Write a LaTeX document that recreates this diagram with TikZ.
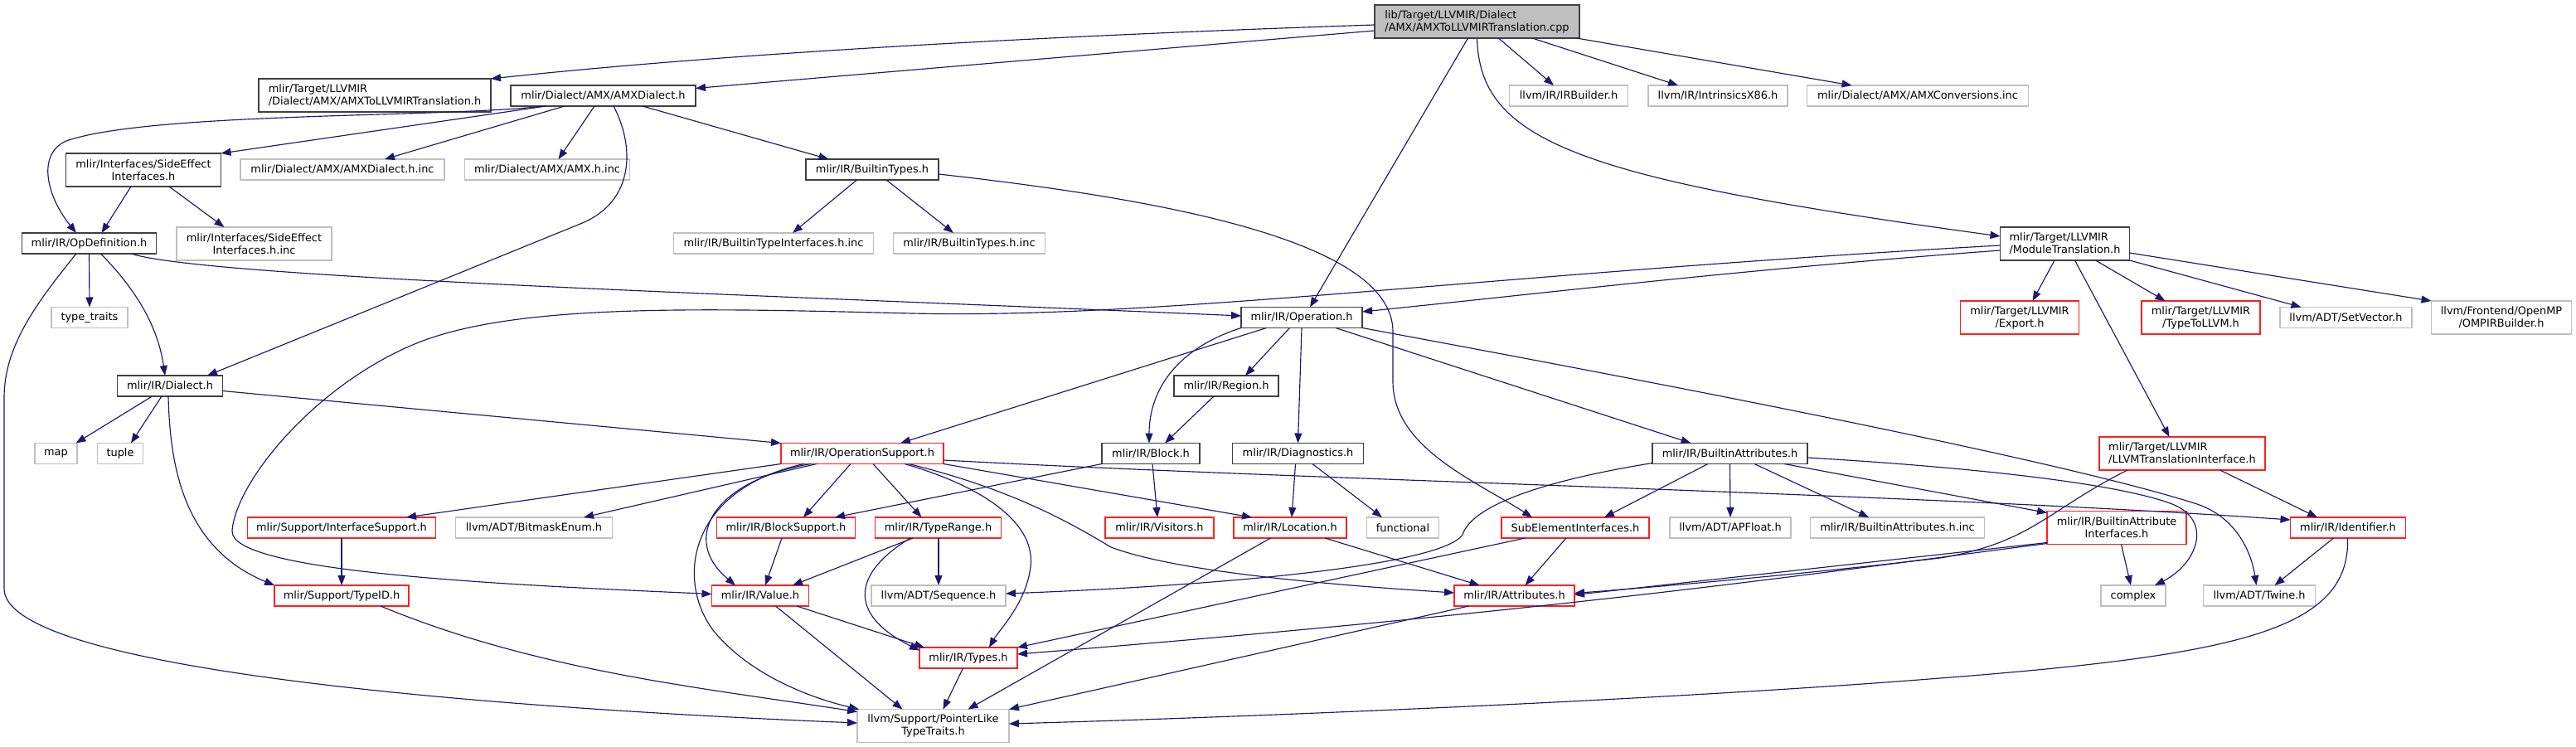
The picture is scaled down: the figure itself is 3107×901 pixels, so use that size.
\documentclass[tikz,border=0pt]{standalone}
\usepackage{fontspec}
\setmainfont{DejaVu Sans}
\usetikzlibrary{arrows.meta,calc}
\definecolor{edgecol}{HTML}{191970}
\definecolor{bcol}{HTML}{404040}
\definecolor{rcol}{HTML}{FF2020}
\definecolor{gcol}{HTML}{BFBFBF}
\begin{document}
\begin{tikzpicture}[x=1pt,y=-1pt,
  box/.style={rectangle, inner sep=0pt, outer sep=0pt, line width=1.1pt, fill=white,
    font=\fontsize{12.9}{15}\selectfont, text=black, align=center},
  sz/.style 2 args={minimum width=#1pt, minimum height=#2pt},
  nb/.style={box, draw=bcol},
  nr/.style={box, draw=rcol},
  ng/.style={box, draw=gcol},
  nroot/.style={box, draw=bcol, fill=gcol},
  dep/.style={draw=edgecol, line width=1.15pt, -{Triangle[length=12pt,width=9pt]}}]
\useasboundingbox (0,0) rectangle (3107,901);

% ---- nodes ----
\node[nroot, sz={247}{40}, align=left] (root) at (1781.5,26) {lib/Target/LLVMIR/Dialect\\/AMX/AMXToLLVMIRTranslation.cpp};
\node[nb, sz={280}{40}, align=left] (amxtrans) at (452,115) {mlir/Target/LLVMIR\\/Dialect/AMX/AMXToLLVMIRTranslation.h};
\node[nb, sz={223}{25}] (amxdialect) at (727.5,115.5) {mlir/Dialect/AMX/AMXDialect.h};
\node[ng, sz={143}{25}] (irbuilder) at (1892,115.5) {llvm/IR/IRBuilder.h};
\node[ng, sz={168}{25}] (x86) at (2072,115.5) {llvm/IR/IntrinsicsX86.h};
\node[ng, sz={267}{25}] (amxconv) at (2313,115.5) {mlir/Dialect/AMX/AMXConversions.inc};
\node[nb, sz={187}{40}] (sideeff) at (173,205) {mlir/Interfaces/SideEffect\\Interfaces.h};
\node[ng, sz={246}{25}] (amxdinc) at (413,204.5) {mlir/Dialect/AMX/AMXDialect.h.inc};
\node[ng, sz={199}{25}] (amxhinc) at (660,204.5) {mlir/Dialect/AMX/AMX.h.inc};
\node[nb, sz={160}{25}] (btypes) at (1052,204.5) {mlir/IR/BuiltinTypes.h};
\node[nb, sz={162}{25}] (opdef) at (107.5,293.5) {mlir/IR/OpDefinition.h};
\node[ng, sz={187}{40}] (sideinc) at (306.5,294) {mlir/Interfaces/SideEffect\\Interfaces.h.inc};
\node[ng, sz={241}{25}] (btiinc) at (933,293.5) {mlir/IR/BuiltinTypeInterfaces.h.inc};
\node[ng, sz={183}{25}] (btinc) at (1169,293.5) {mlir/IR/BuiltinTypes.h.inc};
\node[nb, sz={156}{40}, align=left] (modtrans) at (2490.5,294) {mlir/Target/LLVMIR\\/ModuleTranslation.h};
\node[nb, sz={146}{25}] (operation) at (1570,383) {mlir/IR/Operation.h};
\node[ng, sz={92}{25}] (typetraits) at (108,383) {type\_traits};
\node[nr, sz={143}{40}] (export) at (2436,383) {mlir/Target/LLVMIR\\/Export.h};
\node[nr, sz={143}{40}] (typetollvm) at (2654.5,383) {mlir/Target/LLVMIR\\/TypeToLLVM.h};
\node[ng, sz={159}{25}] (setvector) at (2829.5,383) {llvm/ADT/SetVector.h};
\node[ng, sz={169}{40}] (omp) at (3017,383) {llvm/Frontend/OpenMP\\/OMPIRBuilder.h};
\node[nb, sz={127}{25}] (dialect) at (205,465.5) {mlir/IR/Dialect.h};
\node[nb, sz={126}{25}] (region) at (1479,465.5) {mlir/IR/Region.h};
\node[nr, sz={200}{40}, align=left] (llvmti) at (2632,547) {mlir/Target/LLVMIR\\/LLVMTranslationInterface.h};
\node[ng, sz={51}{25}] (map) at (67.5,547) {map};
\node[ng, sz={55}{25}] (tuple) at (145,547) {tuple};
\node[nr, sz={196}{25}] (opsupport) at (1040,547) {mlir/IR/OperationSupport.h};
\node[nb, sz={118}{25}] (block) at (1388,547) {mlir/IR/Block.h};
\node[nb, sz={158}{25}] (diag) at (1565.5,547) {mlir/IR/Diagnostics.h};
\node[nb, sz={187}{25}] (battr) at (2086.5,547) {mlir/IR/BuiltinAttributes.h};
\node[nr, sz={227}{25}] (ifsupport) at (412,636.5) {mlir/Support/InterfaceSupport.h};
\node[ng, sz={189}{25}] (bitmask) at (644,636.5) {llvm/ADT/BitmaskEnum.h};
\node[nr, sz={167}{25}] (blocksupport) at (948,636.5) {mlir/IR/BlockSupport.h};
\node[nr, sz={152}{25}] (typerange) at (1131.5,636.5) {mlir/IR/TypeRange.h};
\node[nr, sz={131}{25}] (visitors) at (1398.5,636.5) {mlir/IR/Visitors.h};
\node[nr, sz={136}{25}] (location) at (1556,636.5) {mlir/IR/Location.h};
\node[ng, sz={87}{25}] (functional) at (1692,636.5) {functional};
\node[nr, sz={178}{25}] (subelem) at (1900,636.5) {SubElementInterfaces.h};
\node[ng, sz={146}{25}] (apfloat) at (2087,636.5) {llvm/ADT/APFloat.h};
\node[ng, sz={210}{25}] (battrinc) at (2288.5,636.5) {mlir/IR/BuiltinAttributes.h.inc};
\node[nr, sz={168}{40}] (bai) at (2553,636.5) {mlir/IR/BuiltinAttribute\\Interfaces.h};
\node[nr, sz={139}{25}] (identifier) at (2832,636.5) {mlir/IR/Identifier.h};
\node[nr, sz={162}{25}] (typeid) at (412,718.5) {mlir/Support/TypeID.h};
\node[nr, sz={117}{25}] (value) at (917,718.5) {mlir/IR/Value.h};
\node[ng, sz={162}{25}] (sequence) at (1132,718.5) {llvm/ADT/Sequence.h};
\node[nr, sz={145}{25}] (attributes) at (1826.5,718.5) {mlir/IR/Attributes.h};
\node[ng, sz={78}{25}] (complex) at (2573,718.5) {complex};
\node[ng, sz={135}{25}] (twine) at (2725,718.5) {llvm/ADT/Twine.h};
\node[nr, sz={118}{25}] (types) at (1168,793.5) {mlir/IR/Types.h};
\node[ng, sz={183}{40}] (pointerlike) at (1125.5,875.5) {llvm/Support/PointerLike\\TypeTraits.h};

% ---- edges: root ----
\draw[dep] ($(root.west)+(0,4)$) .. controls (1300,42) and (900,62) .. (amxtrans.north east);
\draw[dep] ($(root.west)+(0,11)$) -- ($(amxdialect.east)+(0,-9)$);
\draw[dep] ($(root.south)+(26,0)$) -- ($(irbuilder.north)+(-18,0)$);
\draw[dep] ($(root.south)+(66.5,0)$) -- ($(x86.north)+(-48,0)$);
\draw[dep] ($(root.south)+(120,0)$) -- ($(amxconv.north)+(-79.5,0)$);
\draw[dep] ($(root.south)+(-11,0)$) -- ($(operation.north)+(10,0)$);
\draw[dep] (root.south) .. controls (1785,170) and (1900,215) .. ($(modtrans.west)+(0,-9)$);

% ---- AMXDialect.h ----
\draw[dep] ($(amxdialect.south)+(-72,0)$) .. controls (540,142) and (180,135) .. (80,170) .. controls (45,185) and (55,235) .. ($(opdef.north)+(-15.5,0)$);
\draw[dep] ($(amxdialect.south)+(-69,0)$) -- (sideeff.north east);
\draw[dep] ($(amxdialect.south)+(-46.5,0)$) -- ($(amxdinc.north)+(51,0)$);
\draw[dep] ($(amxdialect.south)+(-10.5,0)$) -- ($(amxhinc.north)+(13.5,0)$);
\draw[dep] ($(amxdialect.south)+(12.5,0)$) .. controls (765,175) and (767,243) .. (700,270) -- ($(dialect.north)+(45,0)$);
\draw[dep] ($(amxdialect.south)+(47.5,0)$) -- ($(btypes.north)+(-52.5,0)$);

% ---- SideEffectInterfaces.h ----
\draw[dep] ($(sideeff.south)+(-15,0)$) -- ($(opdef.north)+(15,0)$);
\draw[dep] ($(sideeff.south)+(31,0)$) -- ($(sideinc.north)+(-36,0)$);

% ---- BuiltinTypes.h ----
\draw[dep] ($(btypes.south)+(-18.5,0)$) -- ($(btiinc.north)+(23,0)$);
\draw[dep] ($(btypes.south)+(17,0)$) -- ($(btinc.north)+(-19,0)$);
\draw[dep] ($(btypes.east)+(0,5.5)$) .. controls (1400,240) and (1680,290) .. (1680,400) -- (1680,460) .. controls (1680,540) and (1780,580) .. ($(subelem.north)+(-52,0)$);

% ---- OpDefinition.h ----
\draw[dep] ($(opdef.south)+(50.5,0)$) .. controls (250,335) and (900,355) .. ($(operation.west)+(0,-2)$);
\draw[dep] (opdef.south) -- (typetraits.north);
\draw[dep] ($(opdef.south)+(14,0)$) .. controls (160,345) and (190,390) .. ($(dialect.north)+(-6,0)$);
\draw[dep] ($(opdef.south)+(-15.5,0)$) .. controls (40,370) and (5,420) .. (5,480) -- (5,710) .. controls (5,800) and (500,850) .. ($(pointerlike.west)+(0,-3.5)$);

% ---- ModuleTranslation.h ----
\draw[dep] ($(modtrans.south)+(-12.5,0)$) -- ($(export.north)+(15.5,0)$);
\draw[dep] ($(modtrans.south)+(12,0)$) -- ($(llvmti.north)+(-15.5,0)$);
\draw[dep] ($(modtrans.south)+(37,0)$) -- ($(typetollvm.north)+(-43,0)$);
\draw[dep] (modtrans.south east) -- ($(setvector.north)+(-54,0)$);
\draw[dep] ($(modtrans.east)+(0,11)$) -- (omp.north west);
\draw[dep] ($(modtrans.west)+(0,8)$) .. controls (2100,325) and (1850,355) .. ($(operation.east)+(0,-7)$);
\draw[dep] ($(modtrans.west)+(0,2)$) .. controls (1800,330) and (1400,385) .. (1100,378) .. controls (850,372) and (620,365) .. (500,415) .. controls (380,465) and (285,580) .. (280,640) .. controls (276,690) and (600,705) .. ($(value.west)+(0,-2)$);

% ---- Operation.h ----
\draw[dep] ($(operation.south)+(-42.5,0)$) -- ($(opsupport.north)+(46,0)$);
\draw[dep] (operation.south west) .. controls (1420,420) and (1386,470) .. ($(block.north)+(-2,0)$);
\draw[dep] ($(operation.south)+(-14.5,0)$) -- ($(region.north)+(23,0)$);
\draw[dep] (operation.south) -- (diag.north);
\draw[dep] ($(operation.south)+(41,0)$) -- ($(battr.north)+(-47,0)$);
\draw[dep] (operation.south east) .. controls (2100,480) and (2500,560) .. (2650,608) .. controls (2700,625) and (2716,670) .. ($(twine.north)+(-3.5,0)$);

% ---- Region.h ----
\draw[dep] ($(region.south)+(-15,0)$) -- ($(block.north)+(17,0)$);

% ---- Block.h ----
\draw[dep] (block.south west) -- ($(blocksupport.north)+(59,0)$);
\draw[dep] ($(block.south)+(2,0)$) -- ($(visitors.north)+(-2.5,0)$);

% ---- Diagnostics.h ----
\draw[dep] ($(diag.south)+(-3,0)$) -- ($(location.north)+(2,0)$);
\draw[dep] ($(diag.south)+(17.5,0)$) -- ($(functional.north)+(-25,0)$);

% ---- BuiltinAttributes.h ----
\draw[dep] ($(battr.south west)+(0,-1)$) .. controls (1860,580) and (1775,610) .. (1764,645) .. controls (1740,680) and (1500,705) .. ($(sequence.east)+(0,-2.5)$);
\draw[dep] ($(battr.south)+(-26.5,0)$) -- ($(subelem.north)+(35,0)$);
\draw[dep] (battr.south) -- (apfloat.north);
\draw[dep] ($(battr.south)+(29.5,0)$) -- ($(battrinc.north)+(-34.5,0)$);
\draw[dep] ($(battr.south)+(65.5,0)$) -- ($(bai.north west)+(0,2)$);
\draw[dep] ($(battr.east)+(0,5)$) .. controls (2400,565) and (2560,585) .. (2620,608) .. controls (2670,628) and (2650,680) .. ($(complex.north)+(26,0)$);

% ---- LLVMTranslationInterface.h ----
\draw[dep] ($(llvmti.south)+(-66,0)$) .. controls (2470,615) and (2450,655) .. (2340,673) .. controls (2200,690) and (2000,708) .. ($(attributes.east)+(0,-3)$);
\draw[dep] ($(llvmti.south)+(45.5,0)$) -- ($(identifier.north)+(-37,0)$);

% ---- Dialect.h ----
\draw[dep] ($(dialect.south)+(-21.5,0)$) -- ($(map.north)+(24,0)$);
\draw[dep] ($(dialect.south)+(-10,0)$) -- ($(tuple.north)+(13,0)$);
\draw[dep] ($(dialect.east)+(0,6)$) -- (opsupport.north west);
\draw[dep] ($(dialect.south)+(-2,0)$) .. controls (205,560) and (220,660) .. (typeid.north west);

% ---- OperationSupport.h ----
\draw[dep] (opsupport.south west) -- ($(ifsupport.north)+(78,0)$);
\draw[dep] ($(opsupport.south)+(-55,0)$) -- ($(bitmask.north)+(60,0)$);
\draw[dep] ($(opsupport.south)+(-62,0)$) .. controls (860,580) and (820,650) .. ($(value.north)+(-30,0)$);
\draw[dep] ($(opsupport.south)+(-70,0)$) .. controls (830,590) and (815,700) .. (860,760) .. controls (900,810) and (970,840) .. ($(pointerlike.north west)+(2,0)$);
\draw[dep] ($(opsupport.south)+(-14,0)$) -- ($(blocksupport.north)+(21,0)$);
\draw[dep] ($(opsupport.south)+(13,0)$) -- ($(typerange.north)+(-20,0)$);
\draw[dep] ($(opsupport.south)+(51,0)$) .. controls (1180,585) and (1255,630) .. (1242,690) .. controls (1235,730) and (1205,760) .. ($(types.north)+(25,0)$);
\draw[dep] ($(opsupport.south)+(56,0)$) .. controls (1220,590) and (1290,630) .. (1340,660) .. controls (1420,690) and (1600,705) .. ($(attributes.west)+(0,-3.5)$);
\draw[dep] (opsupport.south east) -- ($(location.north)+(-46,0)$);
\draw[dep] ($(opsupport.east)+(0,8)$) .. controls (1600,580) and (2300,595) .. ($(identifier.west)+(0,-9.5)$);

% ---- InterfaceSupport.h / TypeID.h ----
\draw[dep] (ifsupport.south) -- (typeid.north);
\draw[dep] ($(typeid.south)+(47,0)$) .. controls (650,810) and (850,830) .. ($(pointerlike.north west)+(0,3)$);

% ---- BlockSupport.h / TypeRange.h ----
\draw[dep] ($(blocksupport.south)+(-5,0)$) -- ($(value.north)+(6,0)$);
\draw[dep] ($(typerange.south)+(-30.5,0)$) -- ($(value.north)+(39,0)$);
\draw[dep] ($(typerange.south)+(0.5,0)$) -- (sequence.north);
\draw[dep] ($(typerange.south)+(-33.5,0)$) .. controls (1030,690) and (1020,740) .. ($(types.west)+(0,-9)$);

% ---- Value.h / Types.h ----
\draw[dep] ($(value.south)+(44,0)$) -- ($(types.north west)+(6,0)$);
\draw[dep] ($(value.south)+(18.5,0)$) -- ($(pointerlike.north)+(-37,0)$);
\draw[dep] ($(types.south)+(-6.5,0)$) -- ($(pointerlike.north)+(12,0)$);

% ---- Location.h / Attributes.h ----
\draw[dep] ($(location.south)+(-23.5,0)$) -- ($(pointerlike.north)+(42,0)$);
\draw[dep] ($(location.south)+(42,0)$) -- ($(attributes.north)+(-42,0)$);
\draw[dep] ($(attributes.south)+(-55,0)$) -- (pointerlike.north east);

% ---- SubElementInterfaces.h ----
\draw[dep] ($(subelem.south)+(-11,0)$) -- ($(attributes.north)+(13,0)$);
\draw[dep] ($(subelem.south)+(-60.5,0)$) -- (types.north east);

% ---- BuiltinAttributeInterfaces.h ----
\draw[dep] ($(bai.south)+(5.5,0)$) -- ($(complex.north)+(-3,0)$);
\draw[dep] ($(bai.west)+(0,18)$) -- ($(attributes.east)+(0,-1)$);
\draw[dep] ($(bai.west)+(0,19)$) .. controls (2200,690) and (1900,735) .. ($(types.east)+(0,-4.5)$);

% ---- Identifier.h ----
\draw[dep] ($(identifier.south)+(-17.5,0)$) -- ($(twine.north)+(18.5,0)$);
\draw[dep] ($(identifier.south)+(-0.5,0)$) .. controls (2835,760) and (2700,790) .. (2340,818) .. controls (2000,845) and (1500,865) .. ($(pointerlike.east)+(0,-2.5)$);
\end{tikzpicture}
\end{document}
